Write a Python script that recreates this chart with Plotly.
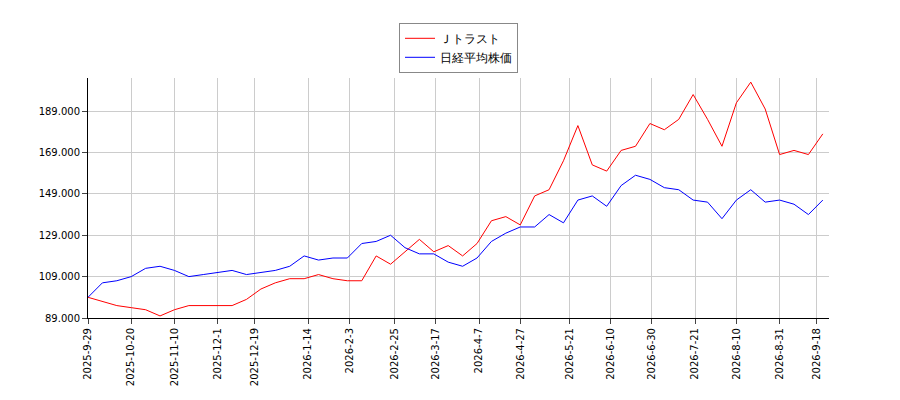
import pandas as pd
import plotly.graph_objects as go

## weekly values
dates = pd.date_range('2025-09-29', periods=52, freq='7D')
jtrust = [99, 97, 95, 94, 93, 90, 93, 95, 95, 95, 95, 98, 103, 106, 108, 108, 110, 108, 107, 107,
          119, 115, 121, 127, 121, 124, 119, 125, 136, 138, 134, 148, 151, 165, 182, 163, 160, 170,
          172, 183, 180, 185, 197, 185, 172, 193, 203, 190, 168, 170, 168, 178]
nikkei = [99, 106, 107, 109, 113, 114, 112, 109, 110, 111, 112, 110, 111, 112, 114, 119, 117, 118,
          118, 125, 126, 129, 123, 120, 120, 116, 114, 118, 126, 130, 133, 133, 139, 135, 146, 148,
          143, 153, 158, 156, 152, 151, 146, 145, 137, 146, 151, 145, 146, 144, 139, 146]

tick_text = ['2025-9-29', '2025-10-20', '2025-11-10', '2025-12-1', '2025-12-19', '2026-1-14',
             '2026-2-3', '2026-2-25', '2026-3-17', '2026-4-7', '2026-4-27', '2026-5-21',
             '2026-6-10', '2026-6-30', '2026-7-21', '2026-8-10', '2026-8-31', '2026-9-18']
tick_dates = pd.to_datetime(tick_text)
yvals = [89, 109, 129, 149, 169, 189]
ytext = [f'{v}.000' for v in yvals]

fig = go.Figure()
fig.add_trace(go.Scatter(x=dates, y=jtrust, mode='lines', name='Ｊトラスト',
                         line=dict(color='red', width=1)))
fig.add_trace(go.Scatter(x=dates, y=nikkei, mode='lines', name='日経平均株価',
                         line=dict(color='blue', width=1)))

fig.update_layout(
    width=900, height=400, plot_bgcolor='white', paper_bgcolor='white',
    margin=dict(l=80, r=79, t=70, b=90, autoexpand=False),
    font=dict(family='DejaVu Sans', size=11, color='black'),
    legend=dict(x=0.5, y=1.23, xanchor='center', yanchor='top', bordercolor='#888',
                borderwidth=1, font=dict(size=12)),
)
fig.update_xaxes(range=[dates[0], pd.Timestamp('2026-09-24')], tickvals=tick_dates, ticktext=tick_text,
                 tickangle=-90, showgrid=True, gridcolor='#cccccc', showline=True, linecolor='black',
                 ticks='outside', tickfont=dict(size=10), automargin=False)
fig.update_yaxes(range=[89, 205], tickvals=yvals, ticktext=ytext, showgrid=True, gridcolor='#cccccc',
                 showline=True, linecolor='black', ticks='outside', zeroline=False,
                 tickfont=dict(size=10), automargin=False)

fig.write_html("out.html")
